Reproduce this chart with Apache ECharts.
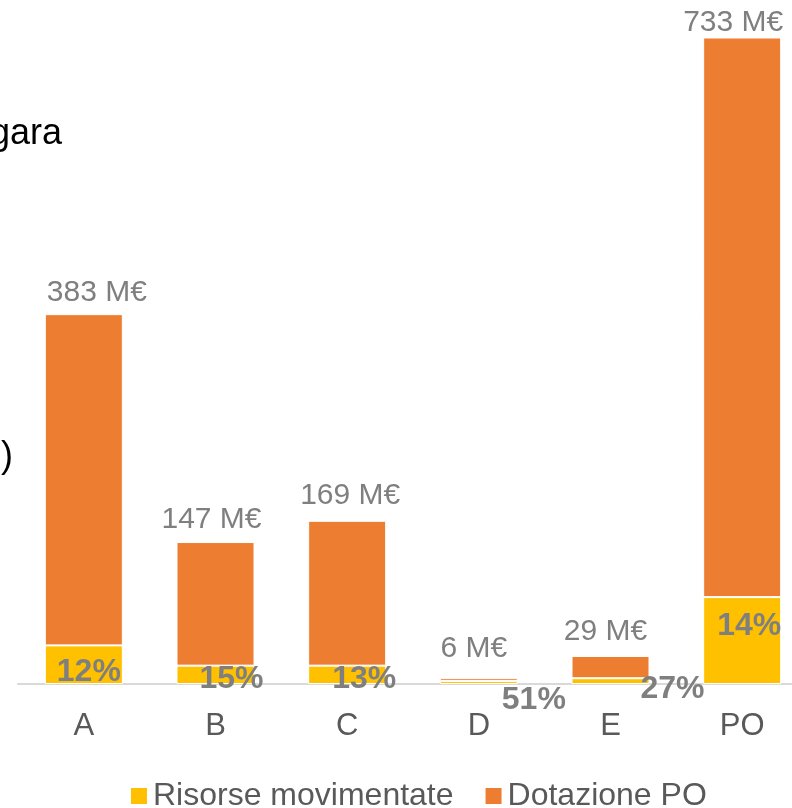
<!DOCTYPE html>
<html>
<head>
<meta charset="utf-8">
<title>Risorse movimentate / Dotazione PO</title>
<script src="https://cdn.jsdelivr.net/npm/echarts@6/dist/echarts.min.js"></script>
<style>
  html, body { margin: 0; padding: 0; background: #fff; }
  #chart { width: 792px; height: 808px; }
</style>
</head>
<body>
<div id="chart"></div>
<script>
// dati
const categories = ['A', 'B', 'C', 'D', 'E', 'PO']
const dotazione = [383, 147, 169, 6, 29, 733] // M€ totale
const risorse = [40, 19, 19, 3, 6, 90] // parte movimentata (M€)
const quote = ['12%', '15%', '13%', '51%', '27%', '14%']

// spostamenti etichette (come nel grafico originale)
const totalOffsets = [[13, 4], [-4, 3], [3, 0], [-5, -4], [-5, 1], [-9, 10]]
const pctOffsets = [[5, 7], [16, 4], [17, 4], [55, 18], [62, 8], [7, -14]]

const resto = dotazione.map((v, i) => v - risorse[i])

const myChart = echarts.init(document.getElementById('chart'))

const option = {
  animation: false,
  textStyle: { fontFamily: 'Liberation Sans, Arial, sans-serif' },
  grid: { left: 18, top: 38, width: 790, bottom: 124, outerBoundsMode: 'none' },
  legend: {
    left: 124,
    top: 775,
    itemWidth: 18,
    itemHeight: 18,
    itemGap: 30,
    icon: 'rect',
    textStyle: { fontSize: 32, color: '#595959' },
    data: ['Risorse movimentate', 'Dotazione PO']
  },
  xAxis: {
    type: 'category',
    data: categories,
    axisLine: { lineStyle: { color: '#d9d9d9', width: 2 } },
    axisTick: { show: false },
    axisLabel: { fontSize: 31, color: '#595959', margin: 27 }
  },
  yAxis: {
    type: 'value',
    min: 0,
    max: 669,
    show: false,
    splitLine: { show: false }
  },
  series: [
    {
      name: 'Risorse movimentate',
      type: 'bar',
      stack: 'tot',
      barWidth: 78,
      itemStyle: { color: '#FFC000', borderColor: '#fff', borderWidth: 1 },
      data: risorse.map((v, i) => ({
        value: v,
        label: { offset: pctOffsets[i] }
      })),
      label: {
        show: true,
        position: 'inside',
        fontSize: 32,
        fontWeight: 'bold',
        color: '#7f7f7f',
        formatter: p => quote[p.dataIndex]
      },
      z: 3
    },
    {
      name: 'Dotazione PO',
      type: 'bar',
      stack: 'tot',
      barWidth: 78,
      itemStyle: { color: '#ED7D31', borderColor: '#fff', borderWidth: 1 },
      data: resto.map((v, i) => ({
        value: v,
        label: { offset: totalOffsets[i] }
      })),
      label: {
        show: true,
        position: 'top',
        distance: 10,
        fontSize: 30,
        color: '#7f7f7f',
        formatter: p => dotazione[p.dataIndex] + ' M€'
      },
      z: 2
    }
  ],
  // testo tagliato a sinistra, sovrapposto al grafico
  graphic: [
    {
      type: 'text',
      x: 62,
      y: 134,
      style: {
        text: 'gara',
        fontSize: 36,
        fill: '#000',
        align: 'right',
        verticalAlign: 'middle',
        fontFamily: 'Liberation Sans, Arial, sans-serif'
      }
    },
    {
      type: 'text',
      x: 13,
      y: 457,
      style: {
        text: ')',
        fontSize: 36,
        fill: '#000',
        align: 'right',
        verticalAlign: 'middle',
        fontFamily: 'Liberation Sans, Arial, sans-serif'
      }
    }
  ]
}

myChart.setOption(option)
</script>
</body>
</html>
